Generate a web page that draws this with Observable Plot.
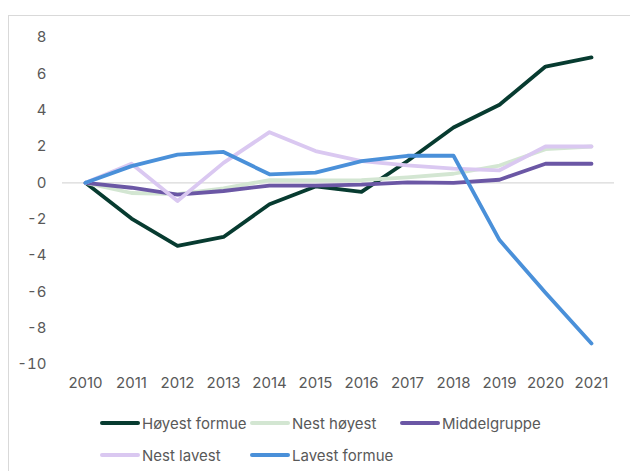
<!DOCTYPE html>
<html>
<head>
<meta charset="utf-8">
<script src="https://cdn.jsdelivr.net/npm/d3@7"></script>
<script src="https://cdn.jsdelivr.net/npm/@observablehq/plot@0.6"></script>
<style>
  html, body { margin: 0; padding: 0; background: #fff; }
  body { width: 630px; height: 471px; position: relative; overflow: hidden; font-family: Inter, "Noto Sans", sans-serif; }
  #frame { position: absolute; left: 8px; top: 15px; width: 700px; height: 500px; border-left: 1px solid #d9d9d9; border-top: 1px solid #d9d9d9; }
  #chart { position: absolute; left: 0; top: 0; }
  #legend { position: absolute; left: 100px; top: 411px; display: grid; grid-template-columns: 150px 150px 150px; row-gap: 8px; }
  .item { display: flex; align-items: center; height: 24px; font-size: 15px; color: #595959; }
  .sw { width: 40px; height: 4px; border-radius: 2px; margin-right: 2px; }
</style>
</head>
<body>
<div id="frame"></div>
<div id="chart"></div>
<div id="legend"></div>
<script>
const years = ["2010","2011","2012","2013","2014","2015","2016","2017","2018","2019","2020","2021"];
const seriesNames = ["Høyest formue","Nest høyest","Middelgruppe","Nest lavest","Lavest formue"];
const seriesColors = ["#073b30","#d3e6d2","#6b57a5","#dac8f1","#4a90d9"];
const hoyestFormue = [0, -1.97, -3.47, -2.98, -1.18, -0.2, -0.5, 1.2, 3.05, 4.3, 6.4, 6.9];
const nestHoyest   = [0, -0.56, -0.62, -0.3, 0.15, 0.13, 0.15, 0.3, 0.5, 0.95, 1.85, 2.0];
const middelgruppe = [0, -0.27, -0.65, -0.45, -0.15, -0.15, -0.1, 0.03, 0.0, 0.17, 1.05, 1.05];
const nestLavest   = [0, 1.05, -1.0, 1.1, 2.79, 1.75, 1.2, 0.96, 0.78, 0.69, 2.0, 2.0];
const lavestFormue = [0, 0.92, 1.55, 1.7, 0.47, 0.56, 1.2, 1.49, 1.49, -3.15, -6.05, -8.84];
const yTicks = [-10, -8, -6, -4, -2, 0, 2, 4, 6, 8];

const seriesValues = [hoyestFormue, nestHoyest, middelgruppe, nestLavest, lavestFormue];
const data = seriesNames.flatMap((name, i) => years.map((y, j) => ({series: name, year: y, value: seriesValues[i][j]})));

const chart = Plot.plot({
  width: 630,
  height: 400,
  marginTop: 37,
  marginBottom: 36,
  marginLeft: 62,
  marginRight: 16,
  style: { fontFamily: "Inter, 'Noto Sans', sans-serif", fontSize: "15px", color: "#595959", background: "transparent" },
  x: { type: "point", domain: years, padding: 0.5, label: null },
  y: { domain: [-10, 8], label: null },
  color: { domain: seriesNames, range: seriesColors },
  marks: [
    Plot.ruleY([0], { stroke: "#d9d9d9", strokeWidth: 1.3 }),
    Plot.axisX({ tickSize: 0, tickPadding: 13, label: null, fill: "#595959", fontSize: 15 }),
    Plot.axisY({ ticks: yTicks, tickSize: 0, tickPadding: 16, label: null, fill: "#595959", fontSize: 15, tickFormat: d => String(d).replace("−", "-") }),
    Plot.line(data, { x: "year", y: "value", z: "series", stroke: "series", strokeWidth: 3.8, strokeLinejoin: "round", strokeLinecap: "round" })
  ]
});
document.getElementById("chart").appendChild(chart);

const legend = document.getElementById("legend");
seriesNames.forEach((name, i) => {
  const item = document.createElement("div");
  item.className = "item";
  const sw = document.createElement("span");
  sw.className = "sw";
  sw.style.background = seriesColors[i];
  const t = document.createElement("span");
  t.textContent = name;
  item.appendChild(sw);
  item.appendChild(t);
  legend.appendChild(item);
});
</script>
</body>
</html>
